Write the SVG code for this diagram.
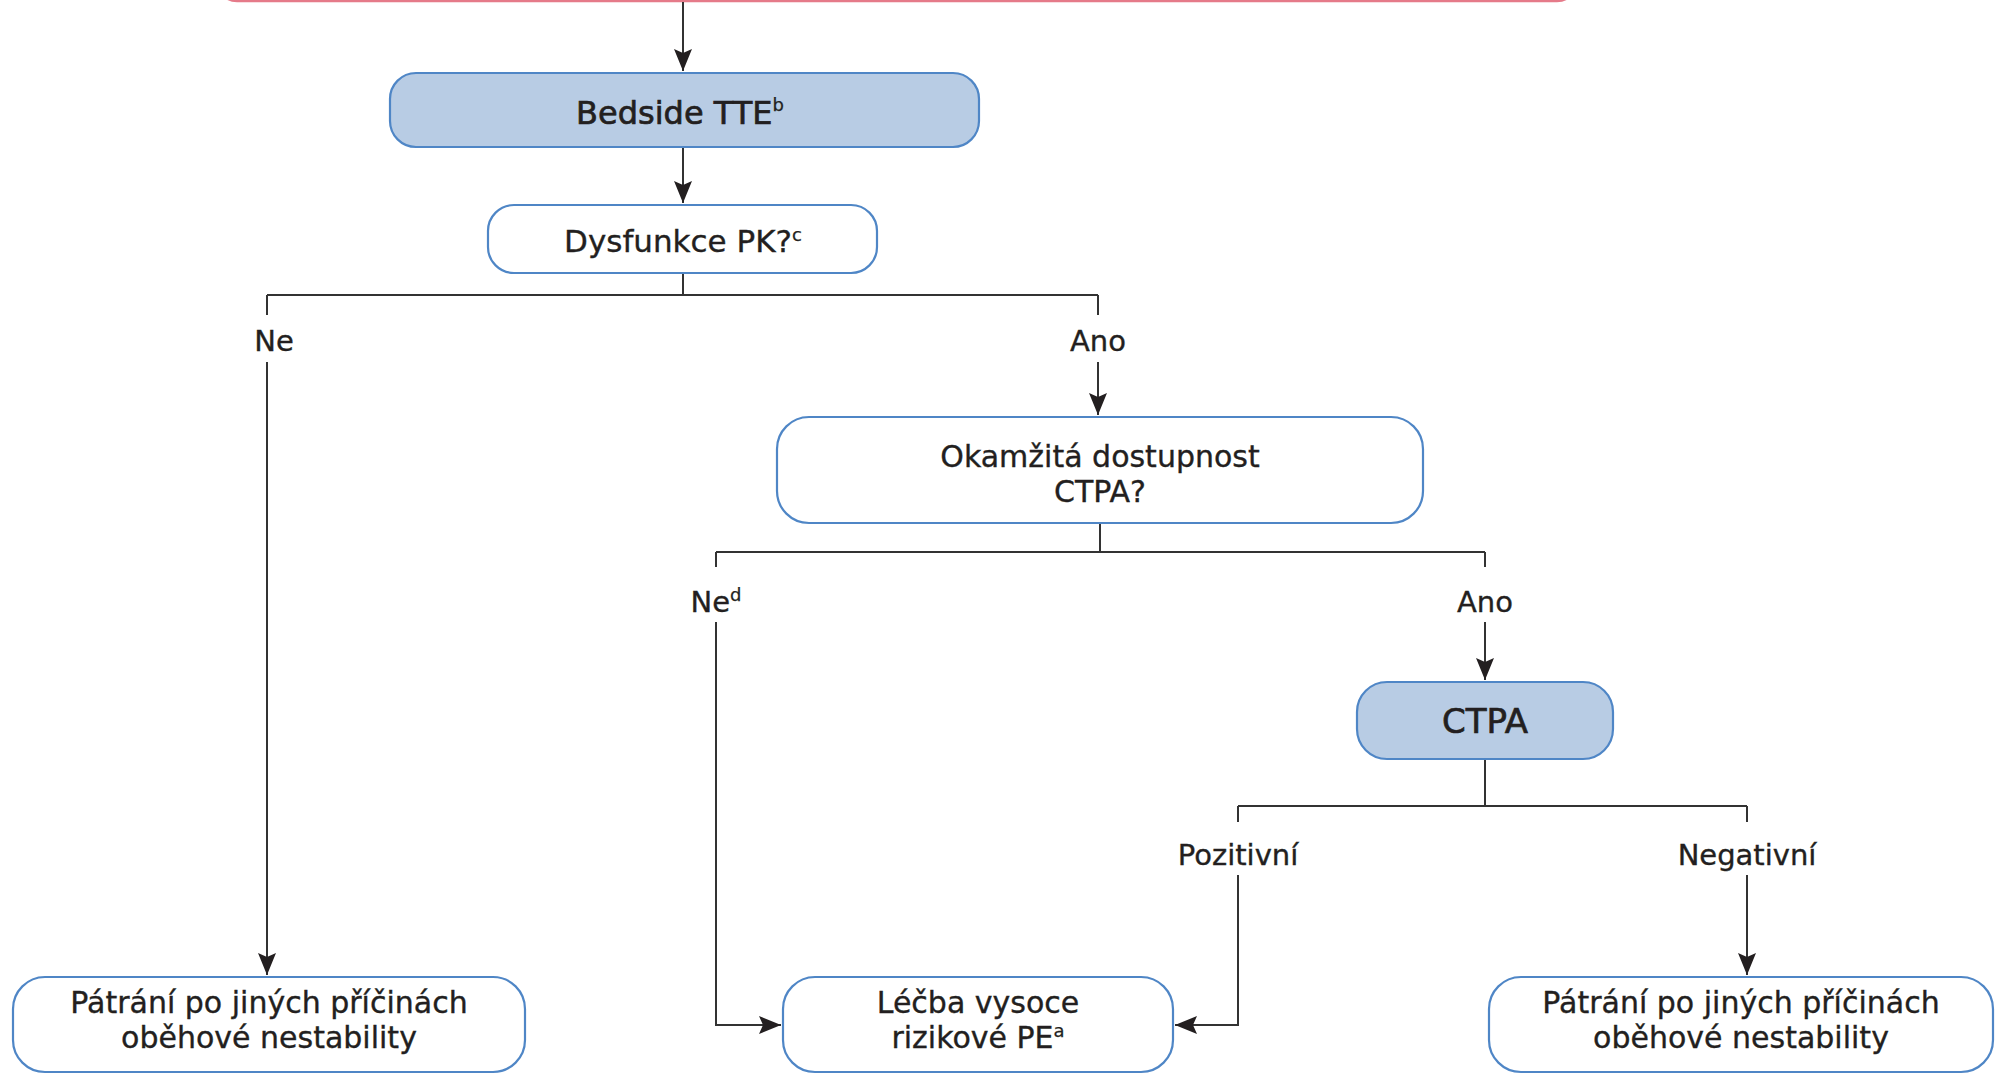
<svg xmlns="http://www.w3.org/2000/svg" width="2007" height="1075" viewBox="0 0 2007 1075">
  <style>
    .box { fill: #ffffff; stroke: #4f86c6; stroke-width: 2.2; }
    .box.key { fill: #b8cce4; }
    .top { fill: #fdeef0; stroke: #e57a89; stroke-width: 2.5; }
    .lbl { font-family: "DejaVu Sans", "Liberation Sans", sans-serif; fill: #231f20; stroke: #231f20; stroke-width: 0.35; text-anchor: middle; }
    .n { font-size: 31px; }
    .m { font-size: 30px; }
    .big { font-size: 32px; stroke-width: 0.7; }
    .ct { font-size: 34px; stroke-width: 0.7; }
    .br { font-size: 29px; }
    .sup { font-size: 18px; stroke-width: 0.25; }
    .wire { fill: none; stroke: #333333; stroke-width: 2; }
    .arr { marker-end: url(#head); }
  </style>
  <defs>
    <marker id="head" markerUnits="userSpaceOnUse" markerWidth="22" markerHeight="18" refX="22" refY="9" orient="auto">
      <path d="M0,0 L22,9 L0,18 L4,9 Z" fill="#231f20"/>
    </marker>
  </defs>

  <rect width="2007" height="1075" fill="#ffffff"/>

  <!-- box above the chart, only its lower edge in view -->
  <g id="top-box">
    <rect class="top" x="217" y="-60" width="1360" height="61" rx="20"/>
  </g>

  <g id="connectors">
    <path class="wire arr" d="M683,2 V71"/>
    <path class="wire arr" d="M683,147 V203"/>
    <path class="wire" d="M683,273 V295 M267,295 H1098 M267,295 V315 M1098,295 V315"/>
    <path class="wire arr" d="M267,362 V975"/>
    <path class="wire arr" d="M1098,362 V415"/>
    <path class="wire" d="M1100,523 V552 M716,552 H1485 M716,552 V567 M1485,552 V567"/>
    <path class="wire arr" d="M716,622 V1025 H781"/>
    <path class="wire arr" d="M1485,622 V680"/>
    <path class="wire" d="M1485,759 V806 M1238,806 H1747 M1238,806 V822 M1747,806 V822"/>
    <path class="wire arr" d="M1238,875 V1025 H1175"/>
    <path class="wire arr" d="M1747,875 V975"/>
  </g>

  <g id="labels">
    <text class="lbl br" x="274" y="351">Ne</text>
    <text class="lbl br" x="1098" y="351">Ano</text>
    <text class="lbl br" x="716" y="612">Ne<tspan class="sup" dy="-11">d</tspan></text>
    <text class="lbl br" x="1485" y="612">Ano</text>
    <text class="lbl br" x="1238" y="865">Pozitivní</text>
    <text class="lbl br" x="1747" y="865">Negativní</text>
  </g>

  <g id="bedside-tte">
    <rect class="box key" x="390" y="73" width="589" height="74" rx="26"/>
    <text class="lbl big" x="680" y="124">Bedside TTE<tspan class="sup" dy="-13">b</tspan></text>
  </g>

  <g id="rv-dysfunction">
    <rect class="box" x="488" y="205" width="389" height="68" rx="26"/>
    <text class="lbl n" x="683" y="252">Dysfunkce PK?<tspan class="sup" dy="-11">c</tspan></text>
  </g>

  <g id="ctpa-available">
    <rect class="box" x="777" y="417" width="646" height="106" rx="32"/>
    <text class="lbl m" x="1100" y="467">Okamžitá dostupnost<tspan x="1100" dy="35">CTPA?</tspan></text>
  </g>

  <g id="ctpa">
    <rect class="box key" x="1357" y="682" width="256" height="77" rx="30"/>
    <text class="lbl ct" x="1485" y="733">CTPA</text>
  </g>

  <g id="other-causes-left">
    <rect class="box" x="13" y="977" width="512" height="95" rx="32"/>
    <text class="lbl m" x="269" y="1013">Pátrání po jiných příčinách<tspan x="269" dy="35">oběhové nestability</tspan></text>
  </g>

  <g id="high-risk-pe">
    <rect class="box" x="783" y="977" width="390" height="95" rx="32"/>
    <text class="lbl m" x="978" y="1013">Léčba vysoce<tspan x="978" dy="35">rizikové PE</tspan><tspan class="sup" dy="-11">a</tspan></text>
  </g>

  <g id="other-causes-right">
    <rect class="box" x="1489" y="977" width="504" height="95" rx="32"/>
    <text class="lbl m" x="1741" y="1013">Pátrání po jiných příčinách<tspan x="1741" dy="35">oběhové nestability</tspan></text>
  </g>
</svg>
